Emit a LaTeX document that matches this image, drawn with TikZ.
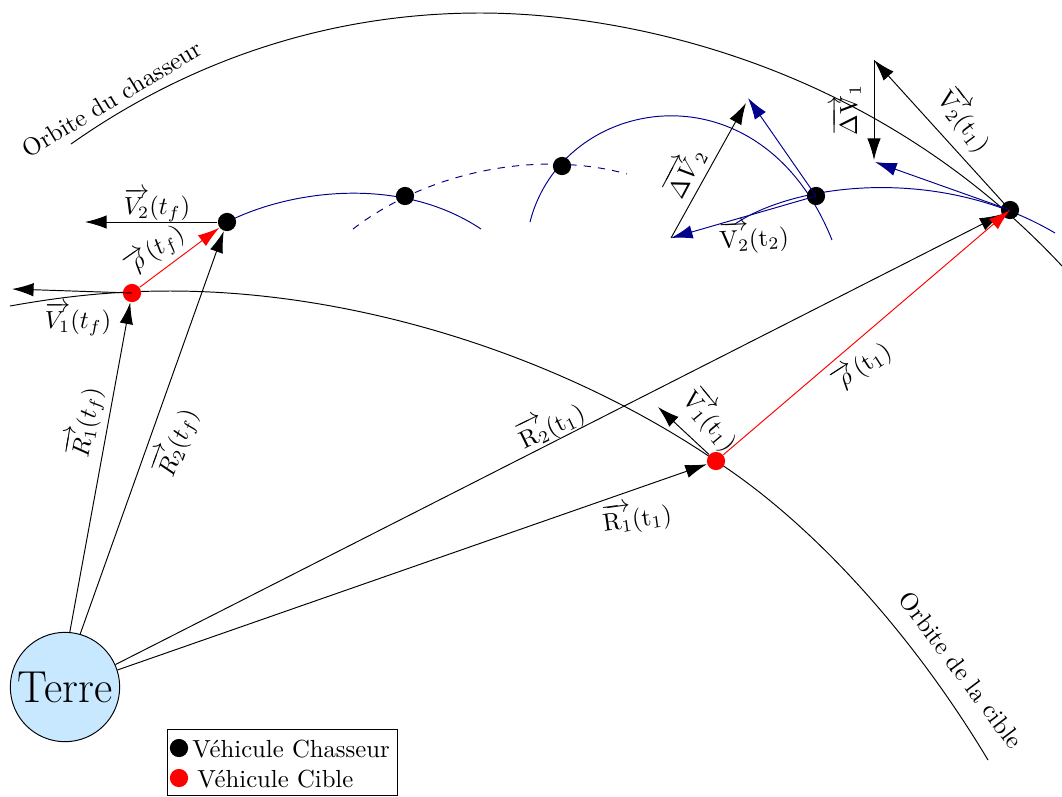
\documentclass[tikz,border=0pt]{standalone}
\usepackage{amsmath}
\usetikzlibrary{arrows.meta}
\definecolor{navyorb}{rgb}{0,0,0.55}
\definecolor{terrefill}{rgb}{0.78,0.91,1}
\begin{document}
\begin{tikzpicture}[x=0.4167pt,y=-0.4167pt]
    \tikzstyle{vehicle}=[circle,fill=black,minimum size=7.6pt,inner sep=0pt]
    \tikzstyle{target}=[circle,fill=red,minimum size=7.6pt,inner sep=0pt]
    \tikzstyle{vec}=[-{Latex[length=9pt,width=5.6pt]}]
    \tikzstyle{traj}=[draw=navyorb]
    \tikzstyle{label}=[inner sep=0pt,scale=1.03]
    \useasboundingbox (0,0) rectangle (1062,796);

    \node[circle,draw=black,fill=terrefill,minimum size=42.2pt,inner sep=0pt,font=\LARGE,scale=1.08] (Terre) at (65,687) {Terre};

    % orbits
    \draw (71,144) .. controls (190,60) and (330,13) .. (480,13)
        .. controls (620,13) and (870,60) .. (1062,266);
    \draw (10,306) .. controls (60,297) and (110,291) .. (170,291)
        .. controls (360,291) and (565,358) .. (716,461)
        .. controls (810,522) and (910,630) .. (988,760);

    % free ends of the velocity vectors
    \foreach \num/\x/\y in {vf/85/222, uf/12/289, u1/658/407, v2/671/238, d2/746/103, w2/748/98, v1/874/60, d1/874/160, w1/875/162, a1/227/222}
        \coordinate (E-\num) at (\x,\y);

    % transfer arcs
    \draw[traj] (E-a1) .. controls (290,190) and (400,175) .. (481,229);
    \draw[traj,dashed] (353,229) .. controls (430,170) and (540,150) .. (627,174);
    \draw[traj] (530,222) .. controls (562,95) and (760,60) .. (832,240);
    \draw[traj] (735,224) .. controls (795,183) and (940,165) .. (1055,233);

    \foreach \num/\x/\y in {f/227/222, a/405/196, b/562/166, 2/816/196, 1/1010/210}
        \node[vehicle] (C-\num) at (\x,\y) {};
    \foreach \num/\x/\y in {f/132/293, 1/716/461}
        \node[target] (T-\num) at (\x,\y) {};

    \foreach \from/\to in {Terre.85/T-f, Terre.74/C-f, Terre.24/C-1, Terre.18/T-1, C-f/E-vf, T-1/E-u1, E-v1/E-d1, E-v2/E-d2}
        \draw[vec] (\from) -- (\to);
    \draw[vec] (T-f.center) -- (E-uf);
    \draw[vec] (C-1.center) -- (E-v1);

    \foreach \from/\to in {C-2/E-v2, C-2/E-w2, C-1/E-w1}
        \draw[vec,navyorb] (\from.center) -- (\to);

    \draw[vec,red] (T-f) -- (C-f);
    \draw[vec,red] (T-1) -- (C-1.center);

    % labels
    \foreach \num/\x/\y/\rot/\txt in {
        1/157/205/0/{$\overrightarrow{V_2}(t_f)$},
        2/78/319/0/{$\overrightarrow{V_1}(t_f)$},
        3/155/251/35/{$\overrightarrow{\rho}(t_f)$},
        4/85/422/80/{$\overrightarrow{R_1}(t_f)$},
        5/176/442/70/{$\overrightarrow{R_2}(t_f)$},
        6/551/425/26/{$\overrightarrow{\mathrm{R}_2}(\mathrm{t}_1)$},
        7/637/517/8/{$\overrightarrow{\mathrm{R}_1}(\mathrm{t}_1)$},
        8/862/367/33/{$\overrightarrow{\rho}(\mathrm{t}_1)$},
        9/711/420/-50/{$\overrightarrow{\mathrm{V}_1}(\mathrm{t}_1)$},
        10/965/120/-53/{$\overrightarrow{\mathrm{V}_2}(\mathrm{t}_1)$},
        11/754/237/3/{$\overrightarrow{\mathrm{V}_2}(\mathrm{t}_2)$},
        12/684/172/62/{$\overrightarrow{\Delta V}_2$},
        13/846/110/90/{$\overrightarrow{\Delta\mathrm{V}}_1$},
        14/112/99/31/{Orbite du chasseur},
        15/961/670/-53/{Orbite de la cible}}
        \node[label,rotate=\rot] (L-\num) at (\x,\y) {\txt};

    % legend
    \draw (167,729) rectangle (397,795);
    \node[vehicle] (K-1) at (179,748) {};
    \node[target] (K-2) at (179,778) {};
    \node[label,anchor=west] (K-a) at (192,749) {Véhicule Chasseur};
    \node[label,anchor=west] (K-b) at (197,779) {Véhicule Cible};
\end{tikzpicture}
\end{document}
